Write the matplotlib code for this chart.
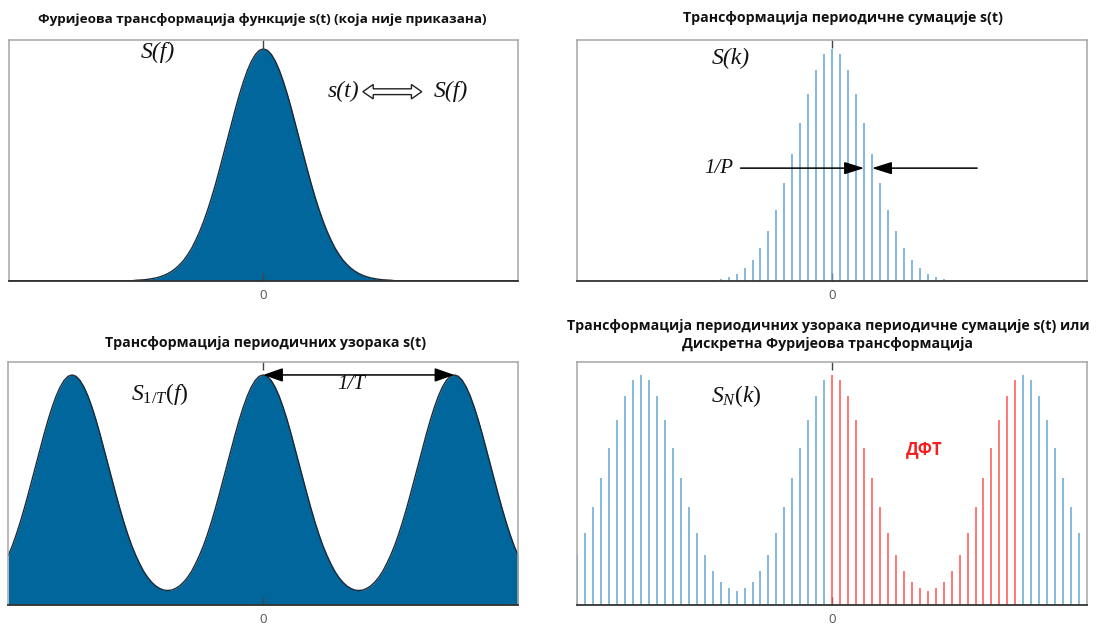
import numpy as np
import matplotlib.pyplot as plt
from matplotlib.patches import Polygon

# envelope S(f) read at half-unit steps, x = 0, 0.5, ..., 16 (symmetric, ~0 beyond)
ENV = [1.000, 0.994, 0.976, 0.947, 0.908, 0.860, 0.805, 0.744, 0.679, 0.613,
       0.547, 0.482, 0.419, 0.360, 0.306, 0.257, 0.213, 0.175, 0.141, 0.113,
       0.089, 0.070, 0.054, 0.041, 0.031, 0.023, 0.017, 0.012, 0.009, 0.006,
       0.004, 0.003, 0.002]

# S(k) stems, k = 0..15 (symmetric)
SK = [1.000, 0.976, 0.908, 0.804, 0.680, 0.547, 0.423, 0.307, 0.214, 0.141,
      0.088, 0.055, 0.029, 0.016, 0.006, 0.002]

# one period of the DFT, k = 0..23
DFT = [1.000, 0.976, 0.908, 0.804, 0.680, 0.550, 0.427, 0.312, 0.217, 0.147,
       0.097, 0.072, 0.062, 0.072, 0.097, 0.147, 0.217, 0.312, 0.427, 0.550,
       0.680, 0.804, 0.908, 0.976]

N = 24          # samples per period
XMAX = 32

TITLES = ['Фуријеова трансформација функције s(t) (која није приказана)',
          'Трансформација периодичне сумације s(t)',
          'Трансформација периодичних узорака s(t)',
          'Трансформација периодичних узорака периодичне сумације s(t) или\n'
          'Дискретна Фуријеова трансформација']

FILL = '#00669b'
EDGE = '#1c2a38'
BLUE = '#64a6d2'
RED = '#ff5252'

plt.rcParams['font.family'] = ['Open Sans', 'DejaVu Sans']
plt.rcParams['mathtext.fontset'] = 'custom'
plt.rcParams['mathtext.it'] = 'Liberation Serif:italic'
plt.rcParams['mathtext.rm'] = 'Liberation Serif'

env = np.array(ENV)
half = np.concatenate([env, np.zeros(2 * XMAX - len(env) + 1)])   # x = 0..32 step .5
x_c = np.arange(-2 * XMAX, 2 * XMAX + 1) / 2.0
y_single = np.concatenate([half[::-1], half[1:]])

# periodic sum from the envelope (one period at half steps, then repeated)
per = np.array([half[i] + half[2 * N - i] for i in range(2 * N)])
idx = (np.arange(len(x_c)) - 2 * XMAX) % (2 * N)
y_periodic = per[idx]

k_all = np.arange(-XMAX, XMAX)
sk = np.array(SK)
sk_vals = np.array([sk[abs(k)] if abs(k) < len(sk) else 0 for k in k_all])
dft_vals = np.array(DFT)[k_all % N]

fig = plt.figure(figsize=(10.98, 6.28), dpi=100)
ax_tl = fig.add_axes([0.0080, 0.5530, 0.4638, 0.3839])
ax_tr = fig.add_axes([0.5258, 0.5530, 0.4642, 0.3839])
ax_bl = fig.add_axes([0.0076, 0.0370, 0.4642, 0.3861])
ax_br = fig.add_axes([0.5258, 0.0370, 0.4642, 0.3861])


def style(ax, top):
    ax.set_xlim(-XMAX, XMAX)
    ax.set_ylim(0, top)
    ax.set_xticks([0])
    ax.set_xticklabels(['0'])
    ax.set_yticks([])
    ax.tick_params(axis='x', direction='in', length=6, width=1, color='#444444',
                   top=True, labelsize=9.5, labelcolor='#555555', pad=6)
    for s in ['left', 'right', 'top']:
        ax.spines[s].set_color('#a6a6a6')
        ax.spines[s].set_linewidth(1.1)
    ax.spines['bottom'].set_color('#333333')
    ax.spines['bottom'].set_linewidth(1.3)


def title(ax, text, x, y, size=10.2):
    ax.text(x, y, text, transform=ax.transAxes, ha='center', va='center',
            fontsize=size, fontweight='bold', color='#111111', linespacing=1.35)


serif = dict(family='Liberation Serif', style='italic', color='#111111')

# top left: continuous spectrum
ax = ax_tl
style(ax, 1.04)
ax.fill_between(x_c, y_single, color=FILL, lw=0)
ax.plot(x_c, y_single, color=EDGE, lw=1)
title(ax, TITLES[0], 0.497, 1.084, size=9.7)
tr = ax.get_xaxis_transform()
ax.text(-13.3, 0.945, 'S(f)', transform=tr, ha='center', va='center', fontsize=17, **serif)
ax.text(10.1, 0.784, 's(t)', transform=tr, ha='center', va='center', fontsize=17, **serif)
ax.text(23.5, 0.784, 'S(f)', transform=tr, ha='center', va='center', fontsize=17, **serif)
xl, xr, yc = 12.5, 19.9, 0.784
hl, hh, sh = 1.3, 0.030, 0.012
arrow = [(xl, yc), (xl + hl, yc + hh), (xl + hl, yc + sh), (xr - hl, yc + sh),
         (xr - hl, yc + hh), (xr, yc), (xr - hl, yc - hh), (xr - hl, yc - sh),
         (xl + hl, yc - sh), (xl + hl, yc - hh)]
ax.add_patch(Polygon(arrow, closed=True, facecolor='white', edgecolor='#222222',
                     lw=1, transform=tr))

# top right: sampled spectrum
ax = ax_tr
style(ax, 1.04)
ax.vlines(k_all, 0, sk_vals, color=BLUE, lw=1.1)
title(ax, TITLES[1], 0.521, 1.088)
tr = ax.get_xaxis_transform()
ax.text(-12.7, 0.923, 'S(k)', transform=tr, ha='center', va='center', fontsize=17, **serif)
ax.text(-14.2, 0.467, '1/P', transform=tr, ha='center', va='center', fontsize=15, **serif)
head = '-|>,head_length=1.2,head_width=0.38'
ax.annotate('', xy=(4, 0.467), xytext=(-11.5, 0.467), xycoords=tr, textcoords=tr,
            arrowprops=dict(arrowstyle=head, mutation_scale=10, color='black',
                            lw=1.1, shrinkA=0, shrinkB=0))
ax.annotate('', xy=(5, 0.467), xytext=(18.2, 0.467), xycoords=tr, textcoords=tr,
            arrowprops=dict(arrowstyle=head, mutation_scale=10, color='black',
                            lw=1.1, shrinkA=0, shrinkB=0))

# bottom left: periodic spectrum
ax = ax_bl
style(ax, 1.055)
ax.fill_between(x_c, y_periodic, color=FILL, lw=0)
ax.plot(x_c, y_periodic, color=EDGE, lw=1)
title(ax, TITLES[2], 0.504, 1.081)
tr = ax.get_xaxis_transform()
ax.text(-13.0, 0.871, r'$\mathit{S}_{\mathit{1/T}}\mathit{(f)}$', transform=tr,
        ha='center', va='center', fontsize=17, color='#111111')
ax.text(11.0, 0.907, '1/T', transform=tr, ha='center', va='center', fontsize=15, **serif)
ax.annotate('', xy=(N, 1.0), xytext=(0, 1.0),
            arrowprops=dict(arrowstyle='<|-|>,head_length=1.2,head_width=0.42',
                            mutation_scale=10, color='black', lw=1.1,
                            shrinkA=0, shrinkB=0))

# bottom right: DFT
ax = ax_br
style(ax, 1.055)
in_dft = (k_all >= 0) & (k_all < N)
ax.vlines(k_all[~in_dft], 0, dft_vals[~in_dft], color=BLUE, lw=1.1)
ax.vlines(k_all[in_dft], 0, dft_vals[in_dft], color=RED, lw=1.1)
title(ax, TITLES[3], 0.4916, 1.112)
tr = ax.get_xaxis_transform()
ax.text(-12.1, 0.862, r'$\mathit{S}_{\mathit{N}}\mathit{(k)}$', transform=tr,
        ha='center', va='center', fontsize=17, color='#111111')
ax.text(11.6, 0.640, 'ДФТ', transform=tr, ha='center', va='center', fontsize=12,
        fontweight='bold', color='#ee2222')

fig.savefig('out.png', dpi=100)
